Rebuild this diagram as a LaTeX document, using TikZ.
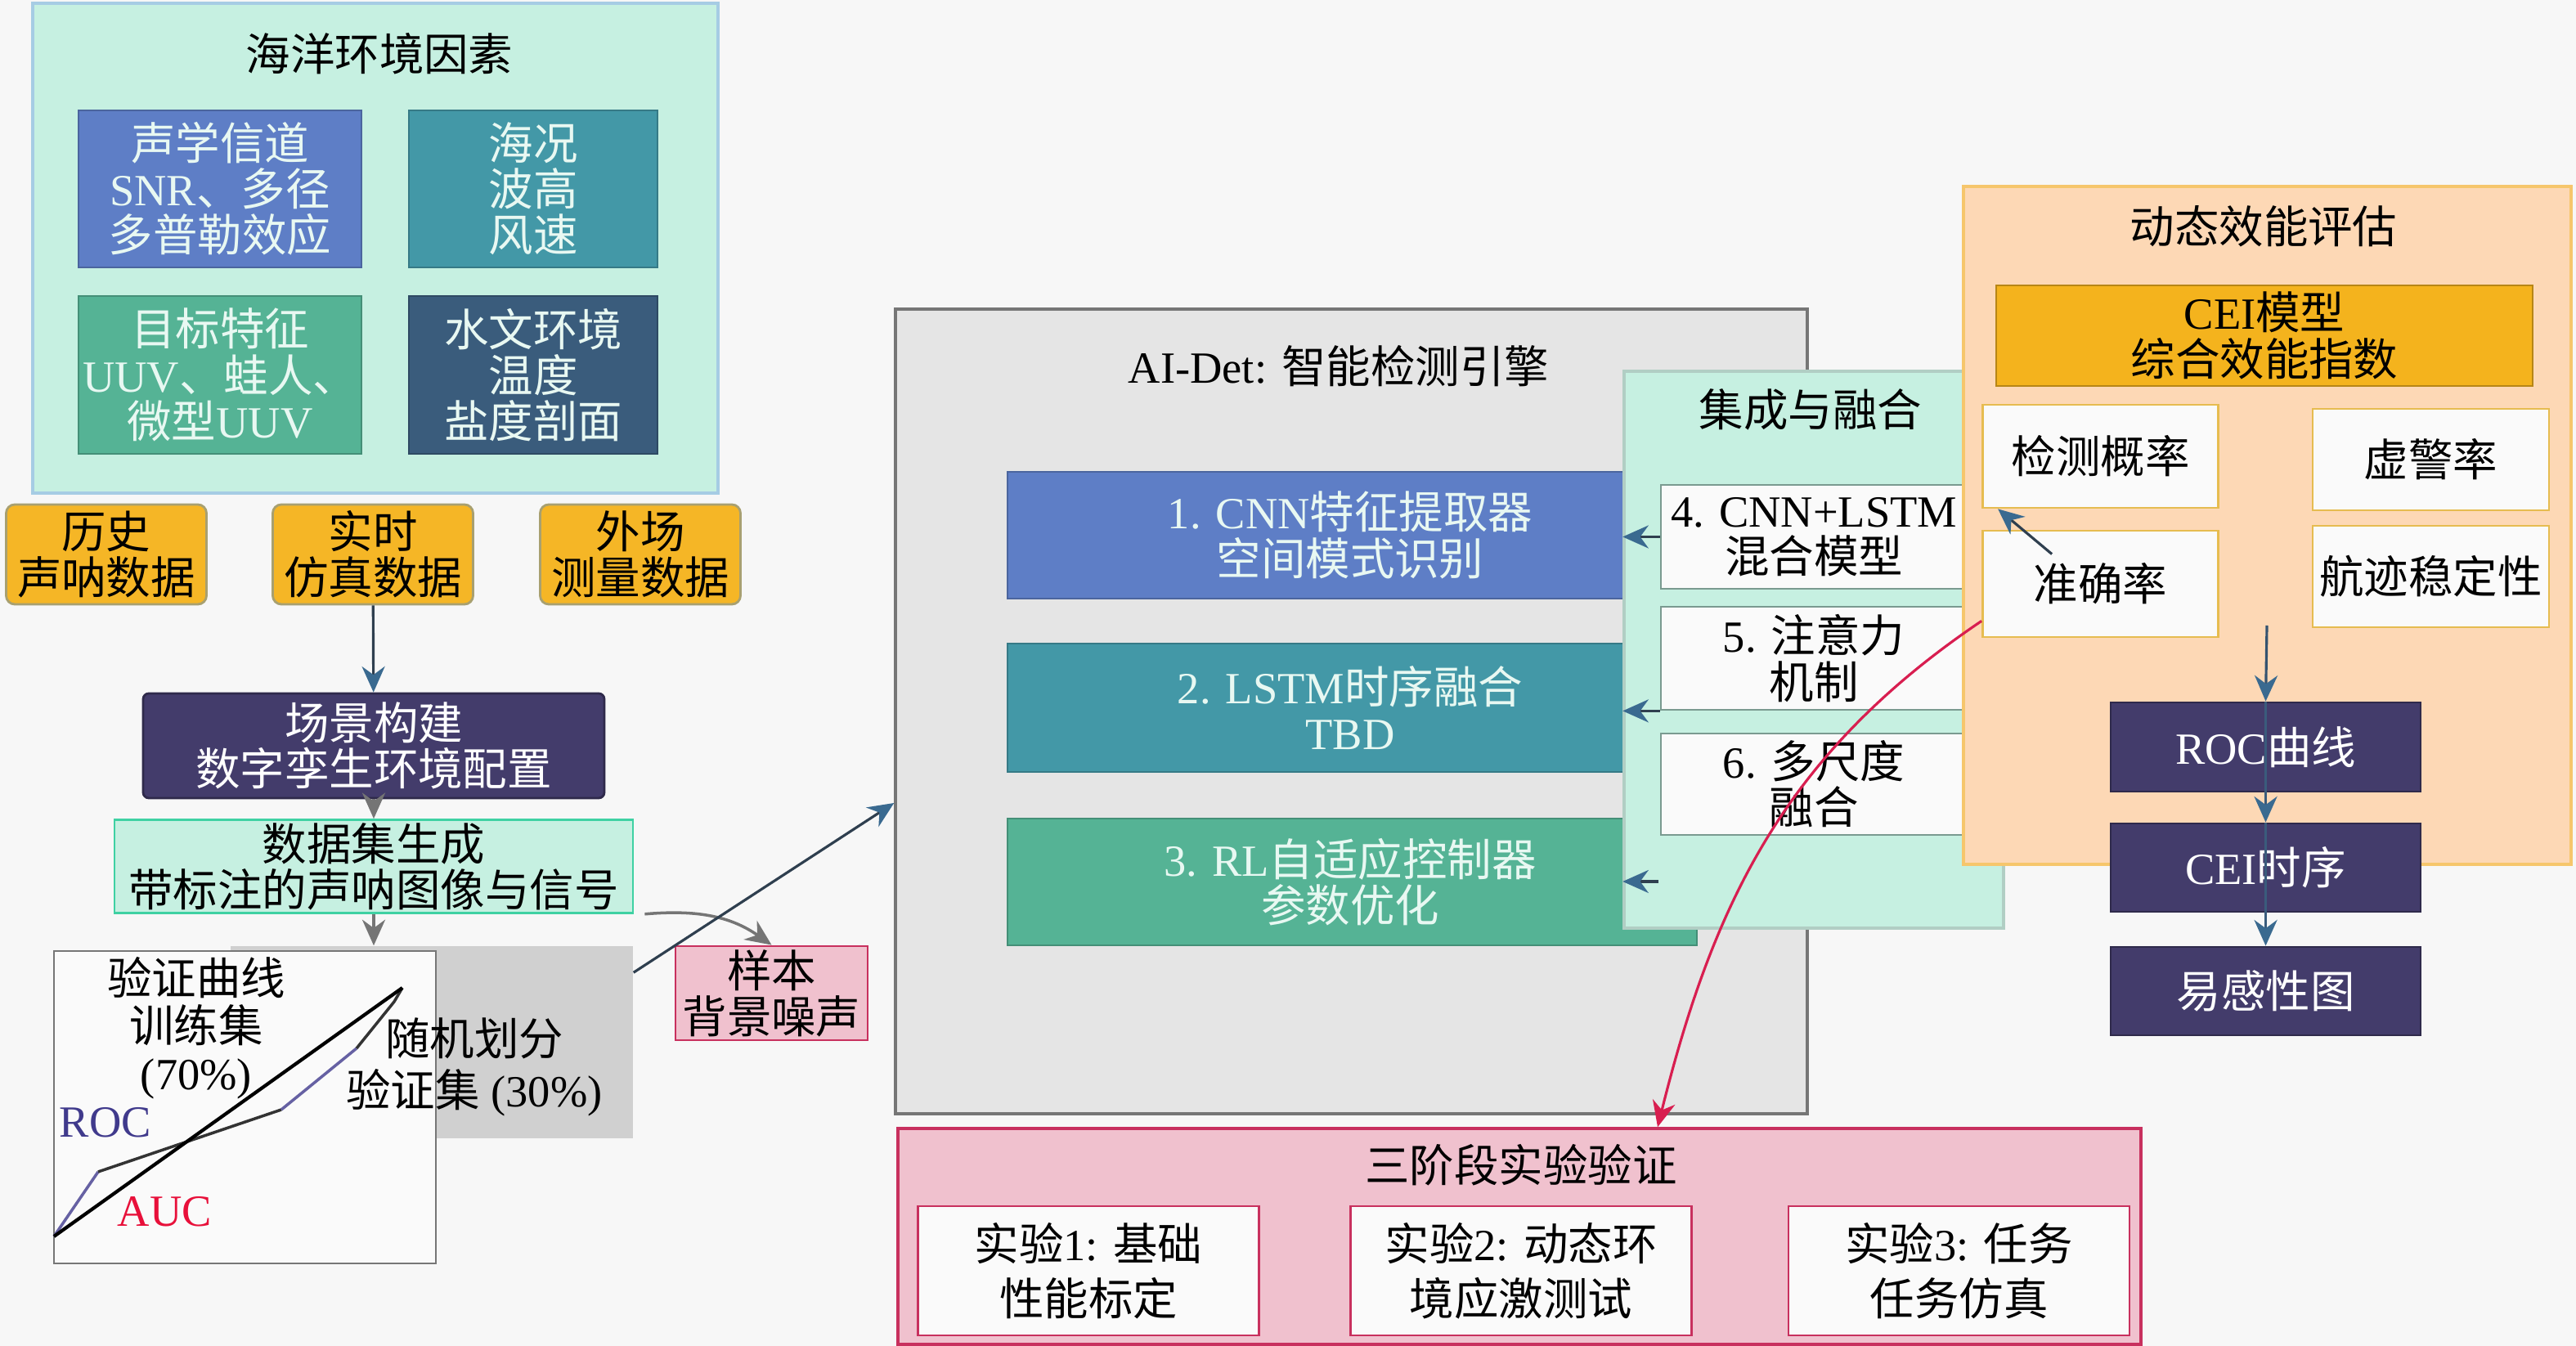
\documentclass[tikz,border=0pt]{standalone}
\usepackage{fontspec}
\setmainfont{Liberation Serif}
\newfontfamily\cjkfont{Noto Sans CJK SC}
% switch to the CJK font for Han characters
\XeTeXinterchartokenstate=1
\newXeTeXintercharclass\hanclass
\count255="4E00
\loop\XeTeXcharclass\count255=\hanclass\advance\count255 by 1 \ifnum\count255<"9FFF\repeat
\XeTeXcharclass"3001=\hanclass
\XeTeXinterchartoks 0 \hanclass = {\begingroup\cjkfont}
\XeTeXinterchartoks 4095 \hanclass = {\begingroup\cjkfont}
\XeTeXinterchartoks \hanclass 0 = {\endgroup}
\XeTeXinterchartoks \hanclass 4095 = {\endgroup}
\usetikzlibrary{positioning,arrows.meta}
\definecolor{bgcol}{HTML}{F7F7F7}
\definecolor{mint}{HTML}{C6F0E1}
\definecolor{envborder}{HTML}{A6CCE4}
\definecolor{cblue}{HTML}{5E7EC6}
\definecolor{cteal}{HTML}{4398A7}
\definecolor{cgreen}{HTML}{55B395}
\definecolor{cslate}{HTML}{3A5C7C}
\definecolor{corange}{HTML}{F5B626}
\definecolor{orangeborder}{HTML}{A8A070}
\definecolor{cpurple}{HTML}{433C6B}
\definecolor{genborder}{HTML}{3FD1A3}
\definecolor{cgray}{HTML}{D0D0D0}
\definecolor{cwhite}{HTML}{FAFAFA}
\definecolor{cpink}{HTML}{F0C1CE}
\definecolor{pinkborder}{HTML}{C8305E}
\definecolor{engfill}{HTML}{E5E5E5}
\definecolor{engborder}{HTML}{767676}
\definecolor{peach}{HTML}{FDD8B5}
\definecolor{peachborder}{HTML}{F6C66C}
\definecolor{ceifill}{HTML}{F4B31D}
\definecolor{goldborder}{HTML}{E6BC50}
\definecolor{fuseborder}{HTML}{7A9A90}
\definecolor{txtlight}{HTML}{E8F8F2}
\definecolor{linedark}{HTML}{2F3F4F}
\definecolor{headblue}{HTML}{3A6A90}
\definecolor{arrowgray}{HTML}{757575}
\definecolor{curvered}{HTML}{D81E50}
\definecolor{rocblue}{HTML}{403A8C}
\definecolor{aucred}{HTML}{E8103A}
\tikzstyle{arrow} = [line width=0.9pt,draw=linedark,-{Stealth[length=9pt,width=8pt,color=headblue]}]
\tikzstyle{grayarrow} = [line width=1pt,draw=arrowgray,-{Stealth[length=9pt,width=8pt]}]
\tikzset{every node/.style={font=\fontsize{15.5pt}{16pt}\selectfont},
  panel/.style={rectangle,draw,line width=1pt},
  box/.style={rectangle,draw,align=center,inner sep=1pt,line width=0.8pt},
  colbox/.style={box,text=txtlight,draw=#1!80!black,fill=#1},
  srcbox/.style={box,rounded corners=3pt,fill=corange,draw=orangeborder,minimum width=2.45cm,minimum height=1.22cm},
  darkbox/.style={box,fill=cpurple,draw=cpurple!70!black,text=white,minimum width=3.79cm,minimum height=1.08cm},
  fusebox/.style={box,fill=cwhite,draw=fuseborder,minimum width=3.74cm,minimum height=1.26cm},
  metricbox/.style={box,fill=cwhite,draw=goldborder,minimum width=2.88cm,minimum height=1.26cm},
  trialbox/.style={box,fill=cwhite,draw=pinkborder,minimum width=4.17cm,minimum height=1.58cm,font=\fontsize{15.5pt}{19pt}\selectfont}}

\begin{document}
\begin{tikzpicture}
    \fill [bgcol] (0,0) rectangle (31.5,16.46);
    \useasboundingbox (0,0) rectangle (31.5,16.46);

    % ocean environment
    \node [panel, fill=mint, draw=envborder, minimum width=8.38cm, minimum height=5.99cm] (env) at (4.59,13.425) {};
    \node (envtitle) at (4.64,15.80) {海洋环境因素};
    \node [colbox=cblue, minimum width=3.46cm, minimum height=1.92cm] (acoustic) at (2.69,14.15) {声学信道\\SNR、多径\\多普勒效应};
    \node [colbox=cteal, minimum width=3.04cm, minimum height=1.92cm, right of=acoustic, node distance=3.83cm] (seastate) {海况\\波高\\风速};
    \node [colbox=cgreen, minimum width=3.46cm, minimum height=1.93cm] (target) at (2.69,11.875) {目标特征\\UUV、蛙人、\\微型UUV};
    \node [colbox=cslate, minimum width=3.04cm, minimum height=1.93cm, right of=target, node distance=3.83cm] (hydro) {水文环境\\温度\\盐度剖面};

    \node [srcbox] (realtime) at (4.56,9.68) {实时\\仿真数据};
    \node [srcbox, left of=realtime, node distance=3.26cm] (history) {历史\\声呐数据};
    \node [srcbox, right of=realtime, node distance=3.27cm] (field) {外场\\测量数据};

    % data pipeline
    \node [box, fill=cpurple, draw=cpurple!70!black, text=white, rounded corners=2pt, minimum width=5.64cm, minimum height=1.28cm] (scene) at (4.57,7.34) {场景构建\\数字孪生环境配置};
    \node [box, fill=mint, draw=genborder, minimum width=6.34cm, minimum height=1.11cm] (gen) at (4.57,5.865) {数据集生成\\带标注的声呐图像与信号};
    \node [rectangle, fill=cgray, minimum width=4.92cm, minimum height=2.35cm] (split) at (5.28,3.715) {};
    \node [box, fill=cwhite, draw=engborder, minimum width=4.67cm, minimum height=3.82cm] (valbox) at (2.995,2.92) {};
    \node [align=center, font=\fontsize{15.5pt}{16.5pt}\selectfont] (valtxt) at (2.40,3.89) {验证曲线\\训练集\\(70\%)};
    \node [align=center, font=\fontsize{15.5pt}{18pt}\selectfont] (splittxt) at (5.80,3.41) {随机划分\\验证集 (30\%)};
    \node [text=rocblue] (roclabel) at (1.29,2.73) {ROC};
    \node [text=aucred] (auclabel) at (2.015,1.64) {AUC};
    \coordinate (c0) at (0.66,1.34);
    \coordinate (c1) at (1.20,2.13);
    \coordinate (c2) at (3.44,2.89);
    \coordinate (c3) at (4.36,3.64);
    \coordinate (c4) at (4.82,4.21);
    \coordinate (c5) at (4.92,4.38);
    \draw [line width=1pt, rocblue!80] (c0) -- (c1);
    \draw [line width=1pt, black!80] (c1) -- (c2);
    \draw [line width=1pt, rocblue!80] (c2) -- (c3);
    \draw [line width=1pt, black!80] (c3) -- (c4) -- (c5);
    \draw [line width=1.2pt, black] (c0) -- (c5);
    \node [box, fill=cpink, draw=pinkborder, minimum width=2.35cm, minimum height=1.15cm] (sample) at (9.435,4.315) {样本\\背景噪声};

    % detection engine
    \node [panel, fill=engfill, draw=engborder, minimum width=11.15cm, minimum height=9.84cm] (engine) at (16.525,7.76) {};
    \node (enginetitle) at (16.37,11.98) {AI-Det: 智能检测引擎};
    \node [colbox=cblue, minimum width=8.43cm, minimum height=1.55cm] (cnn) at (16.535,9.915) {};
    \node [colbox=cteal, minimum width=8.43cm, minimum height=1.57cm, below of=cnn, node distance=2.11cm] (lstm) {};
    \node [colbox=cgreen, minimum width=8.43cm, minimum height=1.55cm, below of=lstm, node distance=2.13cm] (rl) {};
    \node [align=center, text=txtlight] (cnntxt) at (16.51,9.915) {1. CNN特征提取器\\空间模式识别};
    \node [align=center, text=txtlight] (lstmtxt) at (16.51,7.805) {2. LSTM时序融合\\TBD};
    \node [align=center, text=txtlight] (rltxt) at (16.51,5.675) {3. RL自适应控制器\\参数优化};

    % fusion
    \node [panel, fill=mint, draw=mint!70!gray, minimum width=4.64cm, minimum height=6.81cm] (fusion) at (22.18,8.515) {};
    \node (fusiontitle) at (22.14,11.45) {集成与融合};
    \node [fusebox, minimum height=1.27cm] (hybrid) at (22.18,9.895) {4. CNN+LSTM\\混合模型};
    \node [fusebox, below of=hybrid, node distance=1.485cm] (attention) {5. 注意力\\机制};
    \node [fusebox, minimum height=1.24cm, below of=attention, node distance=1.54cm] (multiscale) {6. 多尺度\\融合};
    \coordinate (rlin) at (20.28,5.68);

    % performance evaluation
    \node [panel, fill=peach, draw=peachborder, minimum width=7.43cm, minimum height=8.29cm] (perf) at (27.725,10.035) {};
    \node (perftitle) at (27.68,13.69) {动态效能评估};
    \node [box, fill=ceifill, draw=ceifill!75!black, minimum width=6.56cm, minimum height=1.23cm] (ceimodel) at (27.69,12.355) {CEI模型\\综合效能指数};
    \node [metricbox] (detect) at (25.685,10.88) {检测概率};
    \node [metricbox, minimum width=2.89cm, minimum height=1.24cm] (falsealarm) at (29.725,10.84) {虚警率};
    \node [metricbox, minimum height=1.30cm] (accuracy) at (25.685,9.32) {准确率};
    \node [metricbox, minimum width=2.89cm, minimum height=1.24cm] (track) at (29.725,9.41) {航迹稳定性};
    \node [darkbox, minimum height=1.09cm] (roc) at (27.705,7.325) {ROC曲线};
    \node [darkbox, below of=roc, node distance=1.475cm] (ceitime) {CEI时序};
    \node [darkbox, below of=ceitime, node distance=1.51cm] (sens) {易感性图};
    \coordinate (perfout) at (27.72,8.81);

    % validation
    \node [panel, fill=cpink, draw=pinkborder, minimum width=15.2cm, minimum height=2.64cm] (trial) at (18.58,1.34) {};
    \node (trialtitle) at (18.60,2.21) {三阶段实验验证};
    \node [trialbox] (trial1) at (13.31,0.92) {实验1: 基础\\性能标定};
    \node [trialbox] (trial2) at (18.60,0.92) {实验2: 动态环\\境应激测试};
    \node [trialbox] (trial3) at (23.955,0.92) {实验3: 任务\\任务仿真};

    % connectors
    \draw [arrow] (realtime) -- (scene);
    \draw [grayarrow] (scene) -- (gen);
    \draw [grayarrow] (gen.south) -- (gen.south |- split.north);
    \draw [grayarrow] ([xshift=0.13cm]gen.south east) to[out=5,in=145] (sample.north);
    \draw [arrow] ([yshift=-0.33cm]split.north east) -- ([yshift=-1.12cm]engine.west);
    \draw [arrow] (hybrid.west) -- (hybrid.west -| fusion.west);
    \draw [arrow] (attention.south west) -- (attention.south west -| fusion.west);
    \draw [arrow] (rlin) -- (rlin -| fusion.west);
    \draw [arrow] ([shift={(0.86,-0.30)}]accuracy.north west) -- ([xshift=0.2cm]detect.south west);
    \draw [line width=0.9pt, curvered, -{Stealth[length=9pt,width=8pt]}] ([yshift=0.21cm]accuracy.south west) to[out=214,in=76] ([xshift=1.69cm]trial.north);
    \draw [arrow, draw=cslate!90!black] (perfout) -- (roc.north);
    \foreach \a/\b in {roc/ceitime, ceitime/sens}
        \draw [arrow, draw=cslate] (\a.north) -- (\b.north);
\end{tikzpicture}
\end{document}
